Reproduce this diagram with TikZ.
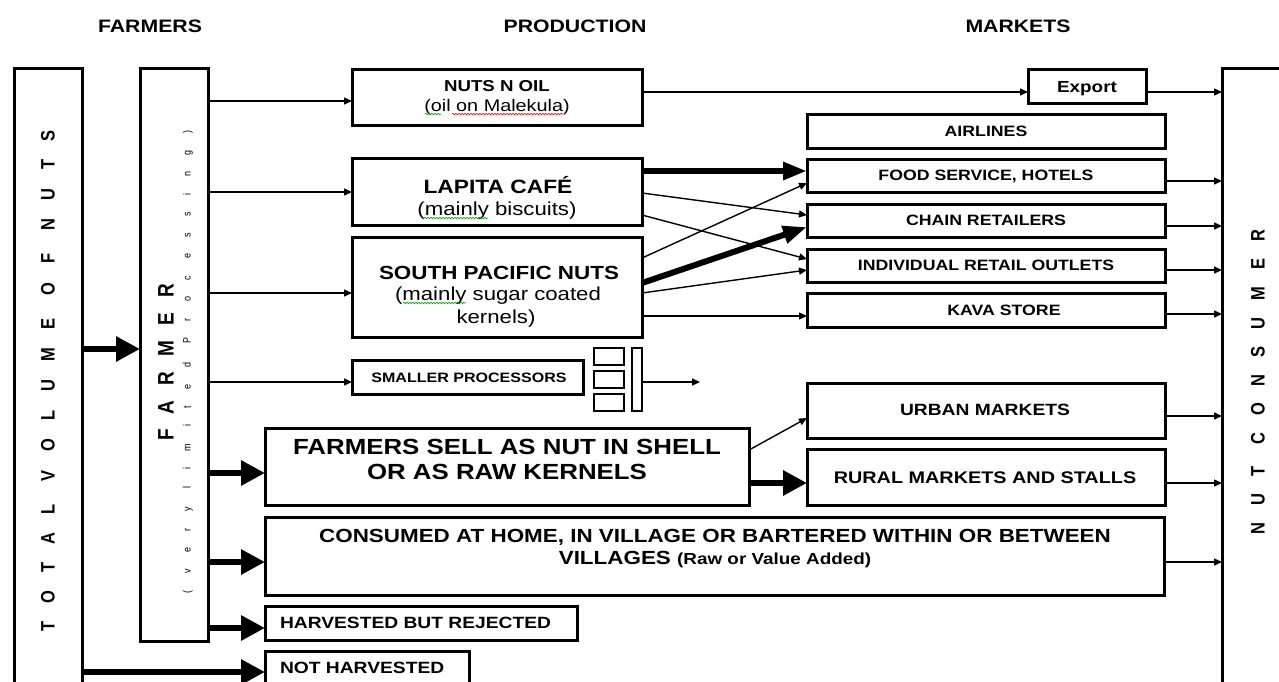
\documentclass[tikz,border=0pt]{standalone}
\usepackage{fontspec}
\setmainfont{Liberation Sans}[FakeStretch=1.18]
\newfontfamily\rotfont{Liberation Sans}
\usetikzlibrary{arrows.meta,decorations.pathmorphing}
\newcommand\myfs[1]{\fontsize{#1}{#1}\selectfont}
\begin{document}
\begin{tikzpicture}[x=1pt,y=-1pt,
  box/.style={draw, line width=3pt, inner sep=0pt, outer sep=0pt, anchor=north west},
  lbl/.style={inner sep=0pt, outer sep=0pt, anchor=base},
  lblw/.style={inner sep=0pt, outer sep=0pt, anchor=base west},
  rot/.style={inner sep=0pt, outer sep=0pt, rotate=90, anchor=center},
  thinarr/.style={line width=1.4pt, -{Triangle[length=8pt,width=7pt]}},
  fatarr/.style={line width=6.5pt, -{Triangle[length=24pt,width=24pt]}},
  midarr/.style={line width=6pt, -{Triangle[length=24pt,width=17pt]}},
  squig/.style={decorate, decoration={snake, amplitude=0.8pt, segment length=3pt}, line width=0.6pt}]
\useasboundingbox (0,0) rectangle (1279,681);

% headers
\node[lbl, font=\myfs{18}\bfseries] (hfarm) at (150,32) {FARMERS};
\node[lbl, font=\myfs{18}\bfseries] (hprod) at (575,32) {PRODUCTION};
\node[lbl, font=\myfs{18}\bfseries] (hmark) at (1018,32) {MARKETS};

% boxes
\node[box, minimum width=68pt, minimum height=700pt] (total) at (14,68) {};
\node[box, minimum width=68pt, minimum height=573pt] (farmer) at (140,68) {};
\node[box, minimum width=290pt, minimum height=56pt] (nutsoil) at (352,69) {};
\node[box, minimum width=290pt, minimum height=67pt] (lapita) at (352,158) {};
\node[box, minimum width=290pt, minimum height=100pt] (spn) at (352,237) {};
\node[box, minimum width=231pt, minimum height=34pt] (smaller) at (352,360) {};
\node[box, line width=2.6pt, minimum width=30pt, minimum height=17pt] (ic1) at (594,348) {};
\node[box, line width=2.6pt, minimum width=30pt, minimum height=17pt] (ic2) at (594,371) {};
\node[box, line width=2.6pt, minimum width=30pt, minimum height=17pt] (ic3) at (594,394) {};
\node[box, line width=2.6pt, minimum width=10pt, minimum height=63pt] (ic4) at (632,348) {};
\node[box, minimum width=484pt, minimum height=77pt] (sell) at (265,428) {};
\node[box, minimum width=899pt, minimum height=78pt] (consumed) at (265,517) {};
\node[box, minimum width=312pt, minimum height=34pt] (harvested) at (265,606) {};
\node[box, minimum width=204pt, minimum height=60pt] (notharv) at (265,651) {};
\node[box, minimum width=118pt, minimum height=34pt] (export) at (1028,69) {};
\node[box, minimum width=358pt, minimum height=34pt] (airlines) at (807,114) {};
\node[box, minimum width=358pt, minimum height=33pt] (food) at (807,159) {};
\node[box, minimum width=358pt, minimum height=33pt] (chain) at (807,204) {};
\node[box, minimum width=358pt, minimum height=33pt] (indiv) at (807,249) {};
\node[box, minimum width=358pt, minimum height=34pt] (kava) at (807,293) {};
\node[box, minimum width=358pt, minimum height=55pt] (urban) at (807,383) {};
\node[box, minimum width=358pt, minimum height=56pt] (rural) at (807,449) {};
\node[box, minimum width=100pt, minimum height=700pt] (consumer) at (1222,68) {};

% rotated texts
\node[rot] (ttotal) at (48,381) {\scalebox{1}[1.18]{\rotfont\bfseries\myfs{16.5}\addfontfeature{LetterSpace=112}TOTAL VOLUME OF NUTS}};
\node[rot] (tfarmer) at (166,362) {\scalebox{1}[1.18]{\rotfont\bfseries\myfs{19}\addfontfeature{LetterSpace=80}FARMER}};
\node[rot] (tlimited) at (188,362) {\scalebox{1}[1.18]{\rotfont\myfs{9}\addfontfeature{LetterSpace=184}(very limited Processing)}};
\node[rot] (tconsumer) at (1258,382) {\scalebox{1}[1.18]{\rotfont\bfseries\myfs{16.5}\addfontfeature{LetterSpace=103}NUT CONSUMER}};

% box texts
\node[lbl, font=\myfs{15.8}\bfseries] (t1) at (497,91.5) {NUTS N OIL};
\node[lbl, font=\myfs{16.8}] (t2) at (497,111) {(oil on Malekula)};
\node[lbl, font=\myfs{19.3}\bfseries] (t3) at (498,193) {LAPITA CAFÉ};
\node[lbl, font=\myfs{18.8}] (t4) at (497,215) {(mainly biscuits)};
\node[lbl, font=\myfs{19}\bfseries] (t5) at (499,279) {SOUTH PACIFIC NUTS};
\node[lbl, font=\myfs{18.8}] (t6) at (498,300) {(mainly sugar coated};
\node[lbl, font=\myfs{18.8}] (t7) at (496,323) {kernels)};
\node[lbl, font=\myfs{13.6}\bfseries] (t8) at (469,382) {SMALLER PROCESSORS};
\node[lbl, font=\myfs{21.9}\bfseries] (t9) at (507,454) {FARMERS SELL AS NUT IN SHELL};
\node[lbl, font=\myfs{21.9}\bfseries] (t10) at (507,479) {OR AS RAW KERNELS};
\node[lbl, font=\myfs{19}\bfseries] (t11) at (715,542) {CONSUMED AT HOME, IN VILLAGE OR BARTERED WITHIN OR BETWEEN};
\node[lbl, font=\myfs{19}\bfseries] (t12) at (715,564) {VILLAGES {\myfs{16}(Raw or Value Added)}};
\node[lblw, font=\myfs{16.3}\bfseries] (t13) at (280,628) {HARVESTED BUT REJECTED};
\node[lblw, font=\myfs{16.3}\bfseries] (t14) at (280,673) {NOT HARVESTED};
\node[lbl, font=\myfs{16}\bfseries] (t15) at (1087,92) {Export};
\node[lbl, font=\myfs{15}\bfseries] (t16) at (986,136.5) {AIRLINES};
\node[lbl, font=\myfs{15}\bfseries] (t17) at (986,180.5) {FOOD SERVICE, HOTELS};
\node[lbl, font=\myfs{15}\bfseries] (t18) at (986,225.5) {CHAIN RETAILERS};
\node[lbl, font=\myfs{15}\bfseries] (t19) at (986,270.5) {INDIVIDUAL RETAIL OUTLETS};
\node[lbl, font=\myfs{15}\bfseries] (t20) at (1004,315.5) {KAVA STORE};
\node[lbl, font=\myfs{16.3}\bfseries] (t21) at (985,415) {URBAN MARKETS};
\node[lbl, font=\myfs{16.8}\bfseries] (t22) at (985,483) {RURAL MARKETS AND STALLS};

% spell-check squiggles
\draw[squig, green!60!black] (425,114) -- (441,114);
\draw[squig, red] (452,114) -- (563,114);
\draw[squig, green!60!black] (424,218) -- (488,218);
\draw[squig, green!60!black] (403,303) -- (466,303);

% level coordinates
\foreach \v in {92,101,171,181,183,192,193,215,226,227,258,259,270,283,293,314,316,349,382,416,418,450,473,483,562,628,672}
  \coordinate (y\v) at (0,\v);
\coordinate (smallend) at (700,382);

% connectors
\draw[fatarr] (total.east |- y349) -- (farmer.west |- y349);
\draw[fatarr] (total.east |- y672) -- (notharv.west |- y672);
\draw[thinarr] (farmer.east |- y101) -- (nutsoil.west |- y101);
\draw[thinarr] (farmer.east |- y192) -- (lapita.west |- y192);
\draw[thinarr] (farmer.east |- y293) -- (spn.west |- y293);
\draw[thinarr] (farmer.east |- y382) -- (smaller.west |- y382);
\draw[fatarr] (farmer.east |- y473) -- (sell.west |- y473);
\draw[fatarr] (farmer.east |- y562) -- (consumed.west |- y562);
\draw[fatarr] (farmer.east |- y628) -- (harvested.west |- y628);
\draw[thinarr] (ic4.east |- y382) -- (smallend);

\draw[thinarr] (nutsoil.east |- y92) -- (export.west |- y92);
\draw[thinarr] (export.east |- y92) -- (consumer.west |- y92);

\draw[midarr] (lapita.east |- y171) -- (food.west |- y171);
\draw[thinarr] (lapita.east |- y193) -- (chain.west |- y215);
\draw[thinarr] (lapita.east |- y215) -- (indiv.west |- y259);
\draw[thinarr] (spn.east |- y258) -- (food.west |- y183);
\draw[midarr] (spn.east |- y283) -- (chain.west |- y227);
\draw[thinarr] (spn.east |- y293) -- (indiv.west |- y270);
\draw[thinarr] (spn.east |- y316) -- (kava.west |- y316);
\draw[thinarr] (sell.east |- y450) -- (urban.west |- y418);
\draw[fatarr] (sell.east |- y483) -- (rural.west |- y483);

\draw[thinarr] (food.east |- y181) -- (consumer.west |- y181);
\draw[thinarr] (chain.east |- y226) -- (consumer.west |- y226);
\draw[thinarr] (indiv.east |- y270) -- (consumer.west |- y270);
\draw[thinarr] (kava.east |- y314) -- (consumer.west |- y314);
\draw[thinarr] (urban.east |- y416) -- (consumer.west |- y416);
\draw[thinarr] (rural.east |- y483) -- (consumer.west |- y483);
\draw[thinarr] (consumed.east |- y562) -- (consumer.west |- y562);
\end{tikzpicture}
\end{document}
